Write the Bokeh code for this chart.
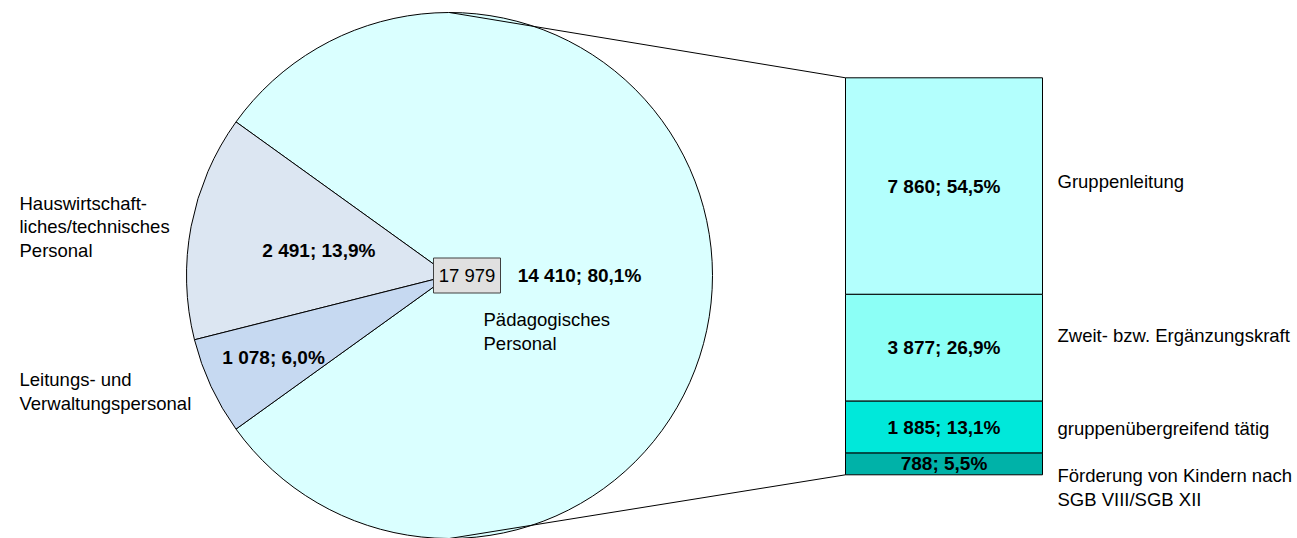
import math
from bokeh.plotting import figure
from bokeh.models import Range1d, ColumnDataSource
from bokeh.core.properties import value
from bokeh.embed import file_html
from bokeh.resources import INLINE

# ---- data ----
total_label = "17 979"
pie_names = ["Pädagogisches\nPersonal", "Hauswirtschaft-\nliches/technisches\nPersonal", "Leitungs- und\nVerwaltungspersonal"]
pie_values = [14410, 2491, 1078]
pie_pct = ["80,1%", "13,9%", "6,0%"]
pie_colors = ["#DAFFFF", "#DCE6F2", "#C6D9F1"]

bar_names = ["Gruppenleitung", "Zweit- bzw. Ergänzungskraft", "gruppenübergreifend tätig", "Förderung von Kindern nach\nSGB VIII/SGB XII"]
bar_values = [7860, 3877, 1885, 788]
bar_pct = ["54,5%", "26,9%", "13,1%", "5,5%"]
bar_colors = ["#B3FFFD", "#8CFFF6", "#00E8DA", "#00B2A8"]

def fmt(n):
    return f"{n:,}".replace(",", " ")

FONT = value("Liberation Sans")
FS_BOLD = "19px"
FS = "18.5px"
LH = 1.12

W, H = 1297, 538
p = figure(width=W, height=H, x_range=Range1d(0, W), y_range=Range1d(0, H),
           output_backend="svg", toolbar_location=None, min_border=0,
           x_axis_location=None, y_axis_location=None)
p.grid.visible = False
p.outline_line_color = None

# ---- layout (pixel coordinates, y upward) ----
cx, cy, r = 449, 263, 263
bar_left, bar_right = 845, 1042
bar_y0, bar_y1 = 63.7, 460.7
bar_total = sum(bar_values)
k = (bar_y1 - bar_y0) / bar_total
p.extra_y_ranges = {"bar": Range1d(0 - bar_y0 / k, bar_total + (H - bar_y1) / k)}

# ---- pie ----
total = sum(pie_values)
angles = [v / total * 2 * math.pi for v in pie_values]
starts, ends = [], []
a0 = -angles[0] / 2
for a in angles:
    starts.append(a0)
    ends.append(a0 + a)
    a0 += a
pie_src = ColumnDataSource(dict(x=[cx] * 3, y=[cy] * 3, s=starts, e=ends, c=pie_colors))
p.wedge(x="x", y="y", radius=r, radius_units="screen", start_angle="s", end_angle="e",
        fill_color="c", line_color="black", line_width=1, source=pie_src)

# pie value labels
label_r = [130, 133, 194]
mids = [(s + e) / 2 for s, e in zip(starts, ends)]
lx = [cx + rr * math.cos(m) for rr, m in zip(label_r, mids)]
ly = [cy + rr * math.sin(m) for rr, m in zip(label_r, mids)]
lt = [f"{fmt(v)}; {pc}" for v, pc in zip(pie_values, pie_pct)]
p.text(x=lx, y=ly, text=lt, text_align="center", text_baseline="middle",
       text_font=FONT, text_font_size=FS_BOLD, text_font_style="bold", text_color="black")

# pie category labels
p.text(x=[483, 19, 19], y=[H - 331, H - 226.5, H - 391], text=pie_names,
       text_align="left", text_baseline="middle", text_line_height=LH,
       text_font=FONT, text_font_size=FS, text_color="black")

# ---- connectors ----
p.line(x=[cx, bar_left], y=[cy + r, bar_y1], line_color="black", line_width=1)
p.line(x=[cx, bar_left], y=[cy - r, bar_y0], line_color="black", line_width=1)

# ---- bar ----
tops, bottoms = [], []
acc = bar_total
for v in bar_values:
    tops.append(acc)
    bottoms.append(acc - v)
    acc -= v
bar_src = ColumnDataSource(dict(l=[bar_left] * 4, r=[bar_right] * 4, t=tops, b=bottoms, c=bar_colors))
p.quad(left="l", right="r", top="t", bottom="b", fill_color="c", line_color="black",
       line_width=1, source=bar_src, y_range_name="bar")

mid_y = [(t + b) / 2 for t, b in zip(tops, bottoms)]
p.text(x=[(bar_left + bar_right) / 2] * 4, y=mid_y,
       text=[f"{fmt(v)}; {pc}" for v, pc in zip(bar_values, bar_pct)],
       text_align="center", text_baseline="middle", y_range_name="bar",
       text_font=FONT, text_font_size=FS_BOLD, text_font_style="bold", text_color="black")

p.text(x=[1057] * 4, y=[H - 181, H - 335, H - 427.7, H - 487], text=bar_names,
       text_align="left", text_baseline="middle", text_line_height=LH,
       text_font=FONT, text_font_size=FS, text_color="black")

# ---- center total box ----
p.rect(x=[466.5], y=[H - 275], width=67, height=35, fill_color="#E0E0E0",
       line_color="#404040", line_width=1)
p.text(x=[466.5], y=[H - 275], text=[total_label], text_align="center", text_baseline="middle",
       text_font=FONT, text_font_size=FS, text_color="black")

open("out.html", "w").write(file_html(p, INLINE))
